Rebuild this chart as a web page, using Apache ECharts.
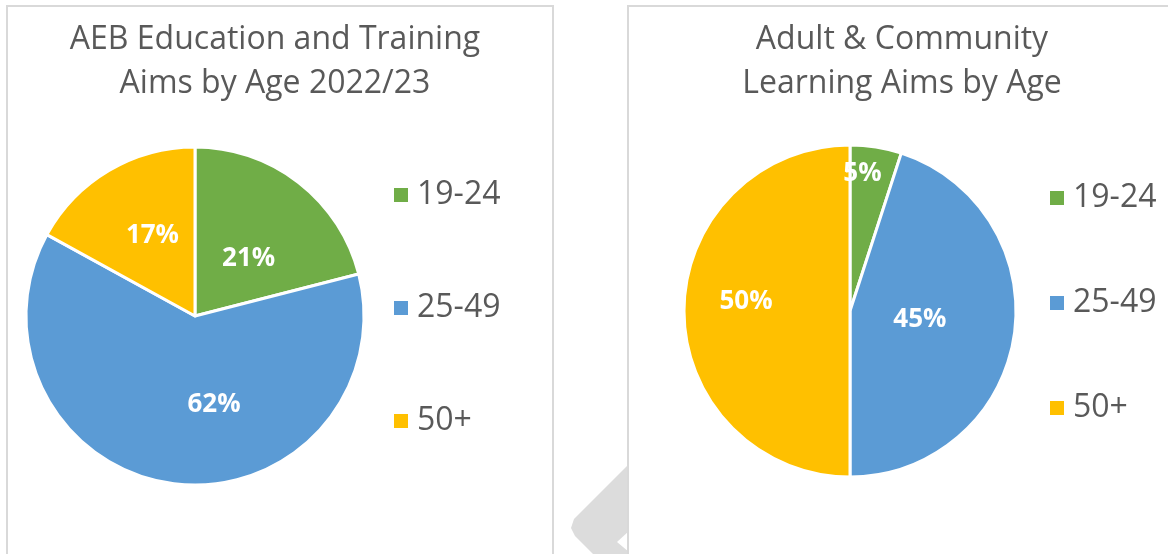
<!DOCTYPE html>
<html>
<head>
<meta charset="utf-8">
<script src="https://cdn.jsdelivr.net/npm/echarts@6/dist/echarts.min.js"></script>
<style>
html, body { margin: 0; padding: 0; background: #fff; }
#chart { width: 1168px; height: 554px; }
</style>
</head>
<body>
<div id="chart"></div>
<script>
// data
var ageGroups = ['19-24', '25-49', '50+'];
var aebValues = [21, 62, 17];
var aclValues = [5, 45, 50];
var aebTitle = 'AEB Education and Training\nAims by Age 2022/23';
var aclTitle = 'Adult & Community\nLearning Aims by Age';

var colors = ['#70AD47', '#5B9BD5', '#FFC000'];
var textColor = '#595959';
var font = 'Open Sans';

// nudges so the labels sit where excel put them
var aebLabelShift = [[0, 12], [30, 2], [2, -5]];
var aclLabelShift = [[-1, -52], [-15, -5], [-18, -9]];

function toData(values) {
  return ageGroups.map(function (name, i) {
    return { name: name, value: values[i] };
  });
}

function pieSeries(values, center, radius, shift) {
  return {
    type: 'pie',
    center: center,
    radius: radius,
    startAngle: 90,
    clockwise: true,
    animation: false,
    silent: true,
    data: toData(values),
    itemStyle: { borderColor: '#fff', borderWidth: 3 },
    label: {
      show: true,
      position: 'inside',
      formatter: '{c}%',
      color: '#fff',
      fontFamily: font,
      fontWeight: 'bold',
      fontSize: 26
    },
    labelLine: { show: false },
    labelLayout: function (params) {
      var s = shift[params.dataIndex];
      return { dx: s[0], dy: s[1] };
    }
  };
}

function legendBox(left, top, gap) {
  return {
    orient: 'vertical',
    left: left,
    top: top,
    itemWidth: 16,
    itemHeight: 16,
    itemGap: gap,
    icon: 'rect',
    selectedMode: false,
    data: ageGroups,
    textStyle: {
      color: textColor,
      fontFamily: font,
      fontSize: 32,
      lineHeight: 36,
      padding: [0, 0, 0, 3]
    }
  };
}

var myChart = echarts.init(document.getElementById('chart'));

myChart.setOption({
  color: colors,
  animation: false,
  graphic: [
    // grey shape peeking out between the two panels
    {
      type: 'polygon', z: -10,
      shape: { points: [[640, 453], [574, 519], [571, 528], [575, 536], [596, 557], [640, 557]] },
      style: { fill: '#dcdcdc' }
    },
    {
      type: 'polygon', z: -9,
      shape: { points: [[629, 531], [617, 542], [629, 552]] },
      style: { fill: '#fff' }
    },
    // panel frames
    {
      type: 'rect', z: -5,
      shape: { x: 7, y: 6, width: 546, height: 600 },
      style: { fill: '#fff', stroke: '#d9d9d9', lineWidth: 2 }
    },
    {
      type: 'rect', z: -5,
      shape: { x: 628, y: 6, width: 600, height: 600 },
      style: { fill: '#fff', stroke: '#d9d9d9', lineWidth: 2 }
    }
  ],
  title: [
    {
      text: aebTitle,
      left: 270,
      top: 13,
      textAlign: 'center',
      textStyle: { color: textColor, fontFamily: font, fontWeight: 'normal', fontSize: 32, lineHeight: 44 }
    },
    {
      text: aclTitle,
      left: 897,
      top: 13,
      textAlign: 'center',
      textStyle: { color: textColor, fontFamily: font, fontWeight: 'normal', fontSize: 32, lineHeight: 44 }
    }
  ],
  legend: [
    legendBox(387, 172, 77),
    legendBox(1043, 175, 69)
  ],
  series: [
    pieSeries(aebValues, [195, 316], 169, aebLabelShift),
    pieSeries(aclValues, [850, 311], 166, aclLabelShift)
  ]
});
</script>
</body>
</html>
